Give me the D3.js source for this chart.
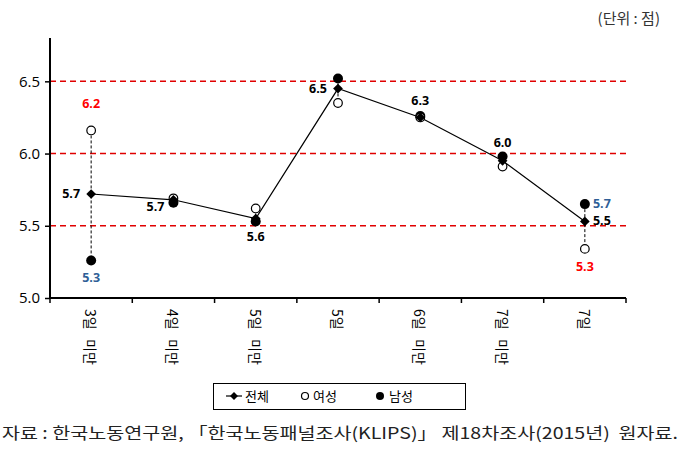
<!DOCTYPE html>
<html>
<head>
<meta charset="utf-8">
<script src="https://cdn.jsdelivr.net/npm/d3@7"></script>
<style>
body{margin:0;background:#fff;}
text{font-family:"Noto Sans CJK KR","Noto Sans",sans-serif;}
</style>
</head>
<body>
<svg id="chart" width="692" height="467"></svg>
<script>
// categories and values
const categories=["3일   미만","4일   미만","5일   미만","5일","6일   미만","7일   미만","7일"];
const total=[5.72,5.68,5.55,6.45,6.25,5.95,5.53];
const women=[6.16,5.69,5.62,6.35,6.25,5.91,5.34];
const men=[5.26,5.66,5.53,6.52,6.26,5.98,5.65];
const yTicks=[5.0,5.5,6.0,6.5];
// data labels: [category index, text, series, colour, dx, dy]
const labels=[
  [0,"6.2","w","#ff0000",0,-22],
  [0,"5.7","t","#000",-20,4],
  [0,"5.3","m","#2f5f97",0,22],
  [1,"5.7","t","#000",-18,11],
  [2,"5.6","t","#000",0,22],
  [3,"6.5","t","#000",-20,4],
  [4,"6.3","t","#000",0,-12],
  [5,"6.0","t","#000",0,-14],
  [6,"5.5","t","#000",17,4],
  [6,"5.7","m","#2f5f97",17,4],
  [6,"5.3","w","#ff0000",0,22]
];

const svg=d3.select("#chart");
const m={l:50,r:66,t:38,b:169};
const W=692,H=467;
const x=d3.scaleBand().domain(d3.range(categories.length)).range([m.l,W-m.r]);
const y=d3.scaleLinear().domain([5.0,6.8]).range([H-m.b,m.t]);
const cx=i=>x(i)+x.bandwidth()/2;

// unit note
svg.append("text").attr("x",660).attr("y",24).attr("text-anchor","end")
  .attr("font-size",15).attr("fill","#333").style("white-space","pre").text("(단위 : 점)");

// red dashed gridlines
svg.append("g").selectAll("line").data(yTicks.slice(1)).enter().append("line")
  .attr("x1",m.l).attr("x2",W-m.r).attr("y1",d=>y(d)).attr("y2",d=>y(d))
  .attr("stroke","#e00000").attr("stroke-width",1.5).attr("stroke-dasharray","6,4");

// y axis
const yAxis=svg.append("g").attr("transform",`translate(${m.l},0)`)
  .call(d3.axisLeft(y).tickValues(yTicks).tickFormat(d3.format(".1f")).tickSize(5).tickSizeOuter(0));
yAxis.select(".domain").attr("stroke","#000").attr("stroke-width",2).attr("d",`M0,${y(5.0)}V${m.t}`);
yAxis.selectAll(".tick line").attr("stroke-width",1.5);
yAxis.selectAll(".tick text").attr("font-size",15).attr("fill","#000").attr("x",-10)
  .style("font-family","'Open Sans','Noto Sans',sans-serif");

// x axis with boundary ticks
const xg=svg.append("g").attr("transform",`translate(0,${y(5.0)})`);
xg.append("line").attr("x1",m.l-1).attr("x2",W-m.r).attr("stroke","#000").attr("stroke-width",2);
xg.selectAll("line.tk").data(d3.range(categories.length+1)).enter().append("line").attr("class","tk")
  .attr("x1",d=>m.l+d*x.step()).attr("x2",d=>m.l+d*x.step()).attr("y1",0).attr("y2",5)
  .attr("stroke","#000").attr("stroke-width",1.5);
xg.selectAll("text").data(categories).enter().append("text")
  .attr("transform",(d,i)=>`translate(${cx(i)-6},11) rotate(90)`)
  .attr("font-size",14).attr("fill","#000").style("white-space","pre").text(d=>d);

// high-low dashed connectors
svg.append("g").selectAll("line").data(categories.map((c,i)=>i)).enter().append("line")
  .attr("x1",cx).attr("x2",cx)
  .attr("y1",i=>y(Math.max(total[i],women[i],men[i])))
  .attr("y2",i=>y(Math.min(total[i],women[i],men[i])))
  .attr("stroke","#000").attr("stroke-width",1).attr("stroke-dasharray","3,2");

// total line
const line=d3.line().x((d,i)=>cx(i)).y(d=>y(d));
svg.append("path").attr("d",line(total)).attr("fill","none").attr("stroke","#000").attr("stroke-width",1.2);

// men (filled circles)
svg.append("g").selectAll("circle").data(men).enter().append("circle")
  .attr("cx",(d,i)=>cx(i)).attr("cy",d=>y(d)).attr("r",5).attr("fill","#000");
// women (open circles)
svg.append("g").selectAll("circle").data(women).enter().append("circle")
  .attr("cx",(d,i)=>cx(i)).attr("cy",d=>y(d)).attr("r",4.3).attr("fill","#fff")
  .attr("stroke","#000").attr("stroke-width",1.2);
// total (diamonds)
const diamond=d3.symbol().type(d3.symbolDiamond2).size(60);
svg.append("g").selectAll("path").data(total).enter().append("path")
  .attr("d",diamond).attr("transform",(d,i)=>`translate(${cx(i)},${y(d)})`).attr("fill","#000");

// value labels
const series={t:total,w:women,m:men};
svg.append("g").selectAll("text").data(labels).enter().append("text")
  .attr("x",d=>cx(d[0])+d[4]).attr("y",d=>y(series[d[2]][d[0]])+d[5])
  .attr("text-anchor","middle").attr("font-size",12.5).attr("font-weight","bold")
  .attr("fill",d=>d[3]).style("font-family","'Open Sans','Noto Sans',sans-serif").text(d=>d[1]);

// legend
const lg=svg.append("g");
lg.append("rect").attr("x",213.5).attr("y",383.5).attr("width",252).attr("height",26)
  .attr("fill","#fff").attr("stroke","#000").attr("stroke-width",1);
lg.append("line").attr("x1",226).attr("x2",242).attr("y1",396).attr("y2",396).attr("stroke","#000").attr("stroke-width",1.2);
lg.append("path").attr("d",d3.symbol().type(d3.symbolDiamond2).size(40)).attr("transform","translate(234,396)").attr("fill","#000");
lg.append("circle").attr("cx",305).attr("cy",396).attr("r",3.5).attr("fill","#fff").attr("stroke","#000").attr("stroke-width",1.2);
lg.append("circle").attr("cx",380).attr("cy",396).attr("r",4).attr("fill","#000");
[["전체",245],["여성",313],["남성",389]].forEach(([t,px])=>{
  lg.append("text").attr("x",px).attr("y",401).attr("font-size",13).attr("fill","#000").text(t);
});

// source note
svg.append("text").attr("x",2).attr("y",439).attr("font-size",16).attr("fill","#222")
  .attr("textLength",676).attr("lengthAdjust","spacingAndGlyphs").style("white-space","pre")
  .text("자료 : 한국노동연구원, 「한국노동패널조사(KLIPS)」 제18차조사(2015년)  원자료.");
</script>
</body>
</html>
